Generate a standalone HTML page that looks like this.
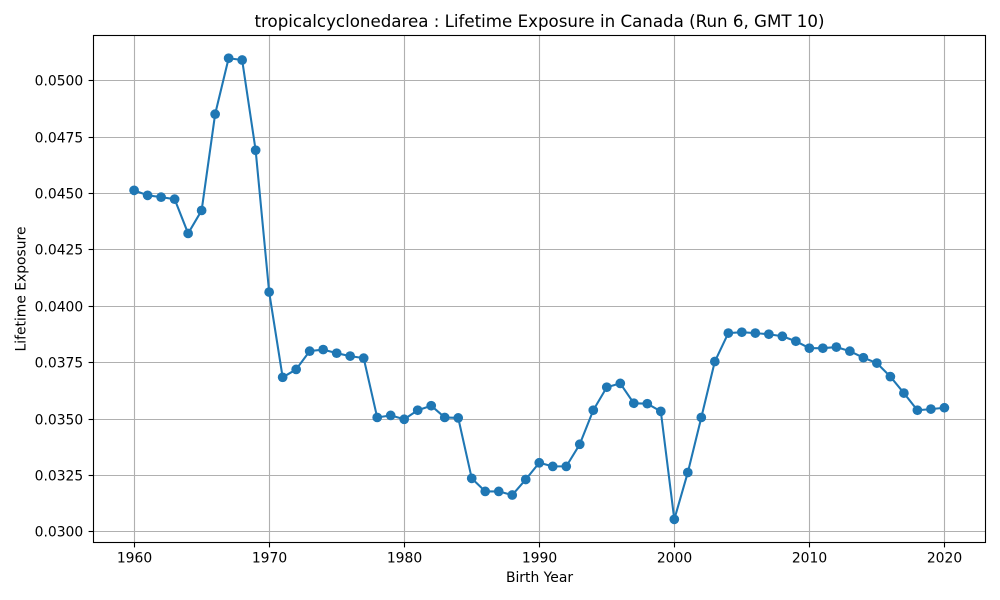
<!DOCTYPE html>
<html lang="en">
<head>
<meta charset="utf-8">
<title>Lifetime Exposure in Canada</title>
<style>
html,body{margin:0;padding:0;background:#fff;width:1000px;height:600px;overflow:hidden}
svg{display:block}
text{font-family:"DejaVu Sans",sans-serif;fill:#000}
</style>
</head>
<body>
<svg id="chart" xmlns="http://www.w3.org/2000/svg" width="1000" height="600" viewBox="0 0 1000 600">
<rect x="0" y="0" width="1000" height="600" fill="#fff"/>
<g id="grid"></g>
<g id="series"></g>
<rect x="93.5" y="35.5" width="892" height="507" fill="none" stroke="#000" stroke-width="1.11"/>
<g id="ticks"></g>
<text x="539.5" y="27" text-anchor="middle" font-size="16.67">tropicalcyclonedarea : Lifetime Exposure in Canada (Run 6, GMT 10)</text>
<text x="539.5" y="582" text-anchor="middle" font-size="13.89">Birth Year</text>
<text transform="translate(25.5 289) rotate(-90)" text-anchor="middle" font-size="13.89">Lifetime Exposure</text>
</svg>
<script>
const birthYears = [1960,1961,1962,1963,1964,1965,1966,1967,1968,1969,1970,1971,1972,1973,1974,1975,1976,1977,1978,1979,1980,1981,1982,1983,1984,1985,1986,1987,1988,1989,1990,1991,1992,1993,1994,1995,1996,1997,1998,1999,2000,2001,2002,2003,2004,2005,2006,2007,2008,2009,2010,2011,2012,2013,2014,2015,2016,2017,2018,2019,2020];
const exposureValues = [0.04513,0.04491,0.04483,0.04474,0.04322,0.04424,0.04851,0.05099,0.05091,0.04691,0.04062,0.03684,0.03719,0.03800,0.03807,0.03791,0.03778,0.03769,0.03506,0.03515,0.03498,0.03538,0.03558,0.03506,0.03504,0.03236,0.03178,0.03178,0.03162,0.03231,0.03305,0.03289,0.03289,0.03387,0.03538,0.03640,0.03657,0.03569,0.03567,0.03533,0.03054,0.03262,0.03506,0.03754,0.03880,0.03884,0.03880,0.03875,0.03866,0.03844,0.03813,0.03813,0.03818,0.03800,0.03771,0.03747,0.03687,0.03614,0.03538,0.03543,0.03549];
const xTickValues = [1960,1970,1980,1990,2000,2010,2020];
const yTickValues = [0.03,0.0325,0.035,0.0375,0.04,0.0425,0.045,0.0475,0.05];
const yTickLabels = ['0.0300','0.0325','0.0350','0.0375','0.0400','0.0425','0.0450','0.0475','0.0500'];

const NS = 'http://www.w3.org/2000/svg';
function xScale(year){ return 134.1 + (year - 1960) * 13.505; }
function yScale(v){ return 531.55 - (v - 0.03) * 22550; }
function snapX(x){ return Math.floor(x) + 0.5; }
function snapY(y){ return Math.floor(y + 0.25) + 0.5; }
function make(tag, parent){
  const el = document.createElementNS(NS, tag);
  parent.appendChild(el);
  return el;
}
const grid = document.getElementById('grid');
const ticks = document.getElementById('ticks');
const series = document.getElementById('series');

xTickValues.forEach(function(t){
  const x = snapX(xScale(t));
  const g = make('line', grid);
  
  
  g.setAttribute('x1', x); g.setAttribute('x2', x);
  g.setAttribute('y1', 35.5); g.setAttribute('y2', 542.5);
  g.setAttribute('stroke', '#b0b0b0'); g.setAttribute('stroke-width', '1.11');
  const m = make('line', ticks);
  
  
  m.setAttribute('x1', x); m.setAttribute('x2', x);
  m.setAttribute('y1', 542.5); m.setAttribute('y2', 547.4);
  m.setAttribute('stroke', '#000'); m.setAttribute('stroke-width', '1.11');
  const l = make('text', ticks);
  
  
  l.setAttribute('x', x); l.setAttribute('y', 562.5);
  l.setAttribute('text-anchor', 'middle'); l.setAttribute('font-size', '13.89');
  l.textContent = String(t);
});

yTickValues.forEach(function(t, i){
  const y = snapY(yScale(t));
  const g = make('line', grid);
  
  
  g.setAttribute('x1', 93.5); g.setAttribute('x2', 985.5);
  g.setAttribute('y1', y); g.setAttribute('y2', y);
  g.setAttribute('stroke', '#b0b0b0'); g.setAttribute('stroke-width', '1.11');
  const m = make('line', ticks);
  
  
  m.setAttribute('x1', 88.6); m.setAttribute('x2', 93.5);
  m.setAttribute('y1', y); m.setAttribute('y2', y);
  m.setAttribute('stroke', '#000'); m.setAttribute('stroke-width', '1.11');
  const l = make('text', ticks);
  
  
  l.setAttribute('x', 83.2); l.setAttribute('y', y + 5.2);
  l.setAttribute('text-anchor', 'end'); l.setAttribute('font-size', '13.89');
  l.textContent = yTickLabels[i];
});

const line = make('polyline', series);


line.setAttribute('fill', 'none');
line.setAttribute('stroke', '#1f77b4');
line.setAttribute('stroke-width', '2.08');
line.setAttribute('stroke-linejoin', 'round');
line.setAttribute('points', birthYears.map(function(yr, i){
  return xScale(yr).toFixed(2) + ',' + yScale(exposureValues[i]).toFixed(2);
}).join(' '));

birthYears.forEach(function(yr, i){
  const c = make('circle', series);
  
  
  c.setAttribute('cx', xScale(yr));
  c.setAttribute('cy', yScale(exposureValues[i]));
  c.setAttribute('r', '4.86');
  c.setAttribute('fill', '#1f77b4');
});
</script>
</body>
</html>
